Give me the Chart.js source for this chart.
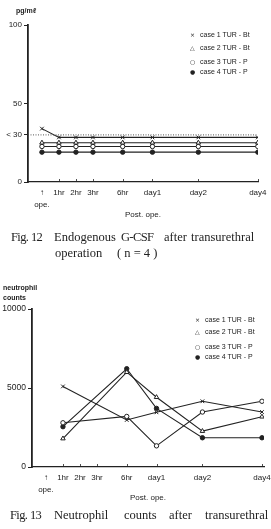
<!DOCTYPE html>
<html><head><meta charset="utf-8">
<script src="https://cdn.jsdelivr.net/npm/chart.js@4/dist/chart.umd.min.js"></script>
<style>
html,body{margin:0;padding:0;background:#fff;}
body{width:271px;height:529px;position:relative;overflow:hidden;font-family:"Liberation Sans",Arial,sans-serif;color:#222;}
.abs{position:absolute;white-space:nowrap;}
.lbl{font-size:7px;font-weight:bold;line-height:9px;}
.leg{font-size:7px;line-height:8px;}
.leg .m{display:inline-block;width:10px;font-family:"DejaVu Sans";font-size:6px;}
.cap{font-family:"Liberation Serif",serif;font-size:12.5px;line-height:14px;color:#222;}
.tight{letter-spacing:-0.6px;}
canvas{position:absolute;left:0;}
</style>
</head><body>
<canvas id="c1" width="271" height="225" style="top:0"></canvas>
<canvas id="c2" width="271" height="250" style="top:260px"></canvas>

<div class="abs lbl" style="left:16px;top:6px;">pg/mℓ</div>
<div class="abs leg" id="leg1" style="left:190px;top:31px;"></div>

<div class="abs lbl" style="left:3px;top:283px;">neutrophil</div>
<div class="abs lbl" style="left:3px;top:293px;">counts</div>
<div class="abs leg" id="leg2" style="left:195px;top:316px;"></div>

<div class="abs cap tight" style="left:11px;top:230px;">Fig. 12</div>
<div class="abs cap" style="left:54px;top:230px;">Endogenous</div>
<div class="abs cap tight" style="left:121px;top:230px;">G-CSF</div>
<div class="abs cap" style="left:164px;top:230px;">after</div>
<div class="abs cap" style="left:191px;top:230px;">transurethral</div>
<div class="abs cap" style="left:55px;top:246px;">operation</div>
<div class="abs cap" style="left:117px;top:246px;">( n = 4 )</div>

<div class="abs cap tight" style="left:10px;top:508px;">Fig. 13</div>
<div class="abs cap" style="left:54px;top:508px;">Neutrophil</div>
<div class="abs cap" style="left:124px;top:508px;">counts</div>
<div class="abs cap" style="left:169px;top:508px;">after</div>
<div class="abs cap" style="left:205px;top:508px;">transurethral</div>

<script>
// ---- data ----
const timeLabels = ['ope', '1hr', '2hr', '3hr', '6hr', 'day1', 'day2', 'day4'];
const timeSlots  = [0, 1, 2, 3, 4.75, 6.5, 9.2, 12.7];   // axis positions of the time categories

const caseNames = ['case 1  TUR - Bt', 'case 2  TUR - Bt', 'case 3  TUR - P', 'case 4  TUR - P'];

// Fig. 12  G-CSF (pg/ml)
const gcsfCase1 = [34, 28.4, 28.4, 28.4, 28.4, 28.4, 28.4, 28.4];
const gcsfCase2 = [25, 25, 25, 25, 25, 25, 25, 25];
const gcsfCase3 = [22.6, 22.6, 22.6, 22.6, 22.6, 22.6, 22.6, 22.6];
const gcsfCase4 = [19, 19, 19, 19, 19, 19, 19, 19];
const gcsfLimit = 30;
const gcsfTicks = [0, 30, 50, 100];
const gcsfTickLabels = ['0', '< 30', '50', '100'];

// Fig. 13  neutrophil counts
const neuCase1 = [null, 5100, null, null, 2975, 3460, 4160, 3480];
const neuCase2 = [null, 1800, null, null, 6000, 4415, 2270, 3180];
const neuCase3 = [null, 2800, null, null, 3200, 1340, 3480, 4160];
const neuCase4 = [null, 2550, null, null, 6220, 3710, 1850, 1850];
const neuTicks = [0, 5000, 10000];
const neuTickLabels = ['0', '5000', '10000'];

// ---- styling ----
const INK = '#222';
const markers = [
  {pointStyle: 'crossRot', fill: INK, r: 2.6, glyph: '×'},
  {pointStyle: 'triangle', fill: '#fff', r: 2.6, glyph: '△'},
  {pointStyle: 'circle', fill: '#fff', r: 2.2, glyph: '○'},
  {pointStyle: 'circle', fill: INK, r: 2.2, glyph: '●'}
];

function toPoints(vals) {
  const pts = [];
  vals.forEach((v, i) => { if (v !== null) pts.push({x: timeSlots[i], y: v}); });
  return pts;
}
function caseDataset(vals, k) {
  const m = markers[k];
  return {
    label: caseNames[k], data: toPoints(vals),
    borderColor: INK, borderWidth: 1.1, tension: 0,
    pointStyle: m.pointStyle, pointRadius: m.r, pointBorderWidth: 1,
    pointBackgroundColor: m.fill, pointBorderColor: INK
  };
}

const inwardTicks = {
  id: 'inwardTicks',
  afterDatasetsDraw(chart) {
    const x = chart.scales.x, ctx = chart.ctx, y0 = chart.chartArea.bottom;
    ctx.save(); ctx.strokeStyle = INK; ctx.lineWidth = 0.8;
    timeSlots.forEach((v, i) => {
      if (i === 0) return;
      const px = Math.round(x.getPixelForValue(v)) + 0.5;
      ctx.beginPath(); ctx.moveTo(px, y0); ctx.lineTo(px, y0 - 3); ctx.stroke();
    });
    ctx.restore();
  }
};

function makeOptions(cfg) {
  return {
    responsive: false, animation: false, devicePixelRatio: 1,
    layout: {padding: {top: cfg.top, right: cfg.right, left: 0, bottom: 0}},
    plugins: {legend: {display: false}, tooltip: {enabled: false}},
    scales: {
      x: {
        type: 'linear', min: cfg.xmin, max: cfg.xmax,
        afterBuildTicks: s => { s.ticks = timeSlots.map(v => ({value: v})); },
        afterFit: s => { s.height = 43; s.paddingLeft = 0; s.paddingRight = 0; },
        ticks: {
          autoSkip: false, maxRotation: 0, color: INK, padding: 5,
          font: {family: 'Liberation Sans', size: 8, lineHeight: 1.5},
          callback: v => {
            const i = timeSlots.indexOf(v);
            if (i === 0) return ['↑', 'ope.'];
            return i >= 0 ? timeLabels[i] : '';
          }
        },
        grid: {display: false, drawTicks: false},
        border: {display: true, color: INK, width: 1.3},
        title: {display: true, text: 'Post. ope.', color: INK, padding: {top: 0, bottom: cfg.titlePad},
                font: {family: 'Liberation Sans', size: 8, lineHeight: 1}}
      },
      y: {
        type: 'linear', min: 0, max: cfg.ymax,
        afterBuildTicks: s => { s.ticks = cfg.yticks.map(v => ({value: v})); },
        afterFit: s => { s.width = cfg.left; },
        ticks: {
          color: INK, padding: 2, font: {family: 'Liberation Sans', size: cfg.yfont},
          callback: v => { const i = cfg.yticks.indexOf(v); return i >= 0 ? cfg.ylabels[i] : ''; }
        },
        grid: {drawOnChartArea: false, tickLength: 4, color: INK, lineWidth: 1},
        border: {display: true, color: INK, width: 1.8}
      }
    }
  };
}

// Chart 1
new Chart(document.getElementById('c1'), {
  type: 'line',
  data: {datasets: [
    {label: 'limit', data: [{x: -0.82, y: gcsfLimit}, {x: 12.71, y: gcsfLimit}],
     borderColor: '#444', borderWidth: 0.9, borderDash: [1, 1.5], pointRadius: 0},
    caseDataset(gcsfCase1, 0), caseDataset(gcsfCase2, 1),
    caseDataset(gcsfCase3, 2), caseDataset(gcsfCase4, 3)
  ]},
  options: makeOptions({top: 25, right: 13, left: 28, xmin: -0.82, xmax: 12.71, ymax: 100,
                        yticks: gcsfTicks, ylabels: gcsfTickLabels, yfont: 8, titlePad: 6}),
  plugins: [inwardTicks]
});

// Chart 2
new Chart(document.getElementById('c2'), {
  type: 'line',
  data: {datasets: [
    caseDataset(neuCase1, 0), caseDataset(neuCase2, 1),
    caseDataset(neuCase3, 2), caseDataset(neuCase4, 3)
  ]},
  options: makeOptions({top: 49, right: 7, left: 32, xmin: -0.82, xmax: 12.82, ymax: 10000,
                        yticks: neuTicks, ylabels: neuTickLabels, yfont: 8.5, titlePad: 8}),
  plugins: [inwardTicks]
});

// legends
function buildLegend(id, rowsTop) {
  const el = document.getElementById(id);
  caseNames.forEach((n, k) => {
    const d = document.createElement('div');
    d.className = 'abs';
    d.style.top = rowsTop[k] + 'px';
    d.innerHTML = '<span class="m">' + markers[k].glyph + '</span>' + n;
    el.appendChild(d);
  });
}
buildLegend('leg1', [0, 13, 27, 37]);
buildLegend('leg2', [0, 12, 27, 37]);
</script>
</body></html>
